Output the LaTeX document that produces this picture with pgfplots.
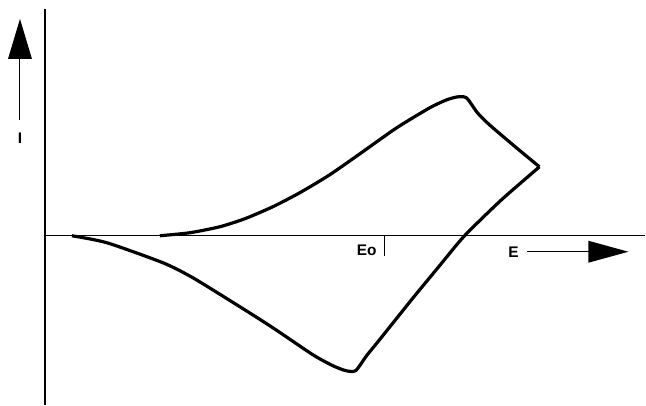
\documentclass[border=0pt]{standalone}
\usepackage{fontspec}
\setmainfont{Liberation Sans}
\usepackage{pgfplots}
\pgfplotsset{compat=1.18}

\begin{document}
\begin{tikzpicture}
\begin{axis}[
    scale only axis,
    width=323pt, height=202.5pt,
    xmin=0, xmax=646, ymin=-169, ymax=236,
    hide axis, clip=false]
  % frame of the picture
  \path (axis cs:0,-169) rectangle (axis cs:646,236);
  % current axis (vertical) and potential axis (horizontal)
  \draw[line width=1pt] (axis cs:45,227) -- (axis cs:45,-169);
  \draw[line width=0.65pt] (axis cs:45,0) -- (axis cs:646,0);
  % I arrow
  \draw[line width=0.5pt] (axis cs:20,177) -- (axis cs:20,116);
  \fill (axis cs:8,177) -- (axis cs:32,177) -- (axis cs:20,217) -- cycle;
  \node[font=\fontsize{7.7}{9}\selectfont\bfseries] at (axis cs:20,98) {I};
  % E arrow
  \draw[line width=0.5pt] (axis cs:528,-16) -- (axis cs:590,-16);
  \fill (axis cs:589,-5) -- (axis cs:589,-27) -- (axis cs:629,-16) -- cycle;
  \node[font=\fontsize{7.7}{9}\selectfont\bfseries] at (axis cs:514,-16) {E};
  % Eo tick
  \draw[line width=0.6pt] (axis cs:385,0) -- (axis cs:385,-20);
  \node[font=\fontsize{7.7}{9}\selectfont\bfseries] at (axis cs:367,-15) {Eo};
  % forward scan
  \addplot[black, line width=1.6pt, smooth, tension=0.4] coordinates {
    (160,0) (190,3) (220,9) (245,17) (273,29) (300,43) (330,61)
    (363,84) (397,108) (430,128) (447,136) (458,139) (467,138)
    (478,123) (490,111) (517,88) (540,69)};
  % reverse scan
  \addplot[black, line width=1.6pt, smooth, tension=0.4] coordinates {
    (540,69) (502,36) (465,0) (440,-30) (412,-64) (380,-104)
    (367,-120) (356,-135) (346,-135) (333,-130) (313,-119)
    (273,-92) (240,-71) (193,-42) (163,-27) (107,-7) (72,0)};
\end{axis}
\end{tikzpicture}
\end{document}
